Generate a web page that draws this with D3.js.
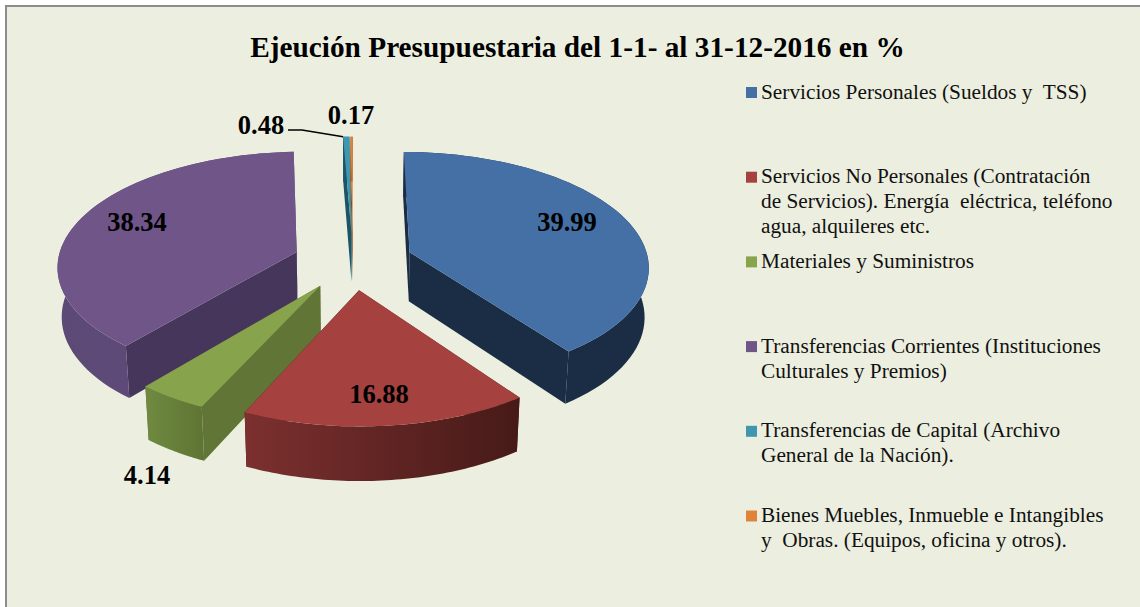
<!DOCTYPE html>
<html>
<head>
<meta charset="utf-8">
<script src="https://cdn.jsdelivr.net/npm/d3@7"></script>
<style>
  html, body { margin: 0; padding: 0; background: #fff; }
  text { font-family: "Liberation Serif", serif; white-space: pre; fill: #000; }
  .value { font-size: 26.5px; font-weight: bold; text-anchor: middle; }
  .legend text { font-size: 21.3px; fill: #111; }
</style>
</head>
<body>
<div id="chart"></div>
<script>
var title = "Ejeución Presupuestaria del 1-1- al 31-12-2016 en %";

var values = [39.99, 16.88, 4.14, 38.34, 0.48, 0.17];
var valueLabels = ["39.99", "16.88", "4.14", "38.34", "0.48", "0.17"];
var legendLines = [
  ["Servicios Personales (Sueldos y  TSS)"],
  ["Servicios No Personales (Contratación", "de Servicios). Energía  eléctrica, teléfono", "agua, alquileres etc."],
  ["Materiales y Suministros"],
  ["Transferencias Corrientes (Instituciones", "Culturales y Premios)"],
  ["Transferencias de Capital (Archivo", "General de la Nación)."],
  ["Bienes Muebles, Inmueble e Intangibles", "y  Obras. (Equipos, oficina y otros)."]
];

var topColors = ["#4570a6", "#a5423f", "#87a34b", "#705589", "#3f96ae", "#e0833a"];
var wallLeft = ["#1a2d45", "#7c302f", "#6f8a40", "#5c4976", "#1c5566", "#8a4a1a"];
var wallRight = ["#1a2d45", "#461a18", "#5f7535", "#604c7b", "#1c5566", "#8a4a1a"];
var faceColors = ["#1a2d45", "#4a1c1a", "#617536", "#47365c", "#1c5566", "#8a4a1a"];

var width = 1140, height = 607;
var cx = 353, cy = 261, R = 239, tilt = 0.475, explode = 60, depth = 50;
var persp = 2100, perspZ = 3500;

var svg = d3.select("#chart").append("svg")
  .attr("width", width)
  .attr("height", height)
  .style("display", "block");

svg.append("rect")
  .attr("x", 6).attr("y", 6)
  .attr("width", width).attr("height", height)
  .attr("fill", "#ecefdf")
  .attr("stroke", "#8c8c8c")
  .attr("stroke-width", 2);

svg.append("text")
  .attr("x", 577.5).attr("y", 57)
  .attr("text-anchor", "middle")
  .style("font-size", "29.3px")
  .style("font-weight", "bold")
  .text(title);

// ground point (angle a, radius r, exploded along mid angle m) to the screen
function project(a, r, m, z) {
  var gx = r * Math.sin(a) + explode * Math.sin(m);
  var gy = -r * Math.cos(a) - explode * Math.cos(m);
  var s = persp / (persp - gy + z * persp / perspZ);
  return [cx + s * gx, cy + s * (gy * tilt + z)];
}

var pie = d3.pie().sort(null).startAngle(0).endAngle(2 * Math.PI);
var arcs = pie(values);

var line = d3.line();

function arcPoints(d, z) {
  var m = (d.startAngle + d.endAngle) / 2;
  return d3.range(0, 61).map(function(i) {
    return project(d.startAngle + (d.endAngle - d.startAngle) * i / 60, R, m, z);
  });
}

var defs = svg.append("defs");
arcs.forEach(function(d, i) {
  var pts = arcPoints(d, 0);
  var grad = defs.append("linearGradient")
    .attr("id", "wall" + i)
    .attr("gradientUnits", "userSpaceOnUse")
    .attr("x1", d3.min(pts, function(p) { return p[0]; }))
    .attr("x2", d3.max(pts, function(p) { return p[0]; }))
    .attr("y1", 0).attr("y2", 0);
  grad.append("stop").attr("offset", 0).attr("stop-color", wallLeft[i]);
  grad.append("stop").attr("offset", 1).attr("stop-color", wallRight[i]);
});

// back slices first so the front ones paint over them
var drawOrder = [4, 5, 0, 3, 2, 1];
var slices = svg.append("g").attr("class", "slices");

drawOrder.forEach(function(i) {
  var d = arcs[i];
  var m = (d.startAngle + d.endAngle) / 2;
  var g = slices.append("g");
  var apexTop = project(0, 0, m, 0), apexBottom = project(0, 0, m, depth);
  var topArc = arcPoints(d, 0), bottomArc = arcPoints(d, depth);

  [topArc[0], topArc[60]].forEach(function(corner, k) {
    var lower = k === 0 ? bottomArc[0] : bottomArc[60];
    g.append("path")
      .attr("d", line([apexTop, corner, lower, apexBottom]) + "Z")
      .attr("fill", faceColors[i]);
  });

  g.append("path")
    .attr("d", line(topArc.concat(bottomArc.slice().reverse())) + "Z")
    .attr("fill", "url(#wall" + i + ")");

  g.append("path")
    .attr("d", line([apexTop].concat(topArc)) + "Z")
    .attr("fill", topColors[i]);
});

// leader from the small teal slice to its label
var leaderEnd = project(arcs[4].startAngle, R, (arcs[4].startAngle + arcs[4].endAngle) / 2, 0);
svg.append("path")
  .attr("d", line([[288, 130], [302, 130], leaderEnd]))
  .attr("fill", "none")
  .attr("stroke", "#000")
  .attr("stroke-width", 1.6);

var labelX = [567, 379, 147, 137, 261, 351];
var labelY = [231, 403, 484, 231, 134, 124];

svg.selectAll(".value")
  .data(valueLabels)
  .enter().append("text")
  .attr("class", "value")
  .attr("x", function(d, i) { return labelX[i]; })
  .attr("y", function(d, i) { return labelY[i]; })
  .text(function(d) { return d; });

var legendY = d3.scaleLinear().domain([0, 5]).range([92.5, 516]);
var legendColor = d3.scaleOrdinal().domain(d3.range(6)).range(topColors);

var legend = svg.selectAll(".legend")
  .data(legendLines)
  .enter().append("g")
  .attr("class", "legend")
  .attr("transform", function(d, i) { return "translate(746," + legendY(i) + ")"; });

legend.append("rect")
  .attr("x", 0).attr("y", -5.5)
  .attr("width", 11).attr("height", 11)
  .attr("fill", function(d, i) { return legendColor(i); });

legend.selectAll("text")
  .data(function(d) { return d; })
  .enter().append("text")
  .attr("x", 15)
  .attr("y", function(d, i) { return 6 + i * 25; })
  .text(function(d) { return d; });
</script>
</body>
</html>
